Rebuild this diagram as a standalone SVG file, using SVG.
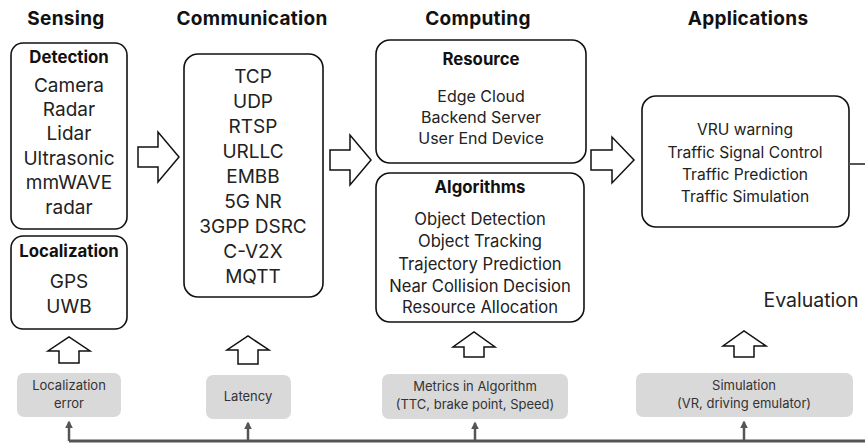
<svg xmlns="http://www.w3.org/2000/svg" width="865" height="443" viewBox="0 0 865 443">
<style>
.hd{font-family:Inter,"Liberation Sans",sans-serif;font-weight:700;font-size:19px;fill:#111;text-anchor:middle;letter-spacing:0.3px}
.bx{fill:#fff;stroke:#111;stroke-width:1.6}
.t{font-family:Inter,"Liberation Sans",sans-serif;font-size:19px;fill:#222;text-anchor:middle}
.tb{font-family:Inter,"Liberation Sans",sans-serif;font-size:16.8px;font-weight:700;fill:#111;text-anchor:middle}
.tm{font-family:Inter,"Liberation Sans",sans-serif;font-size:16px;fill:#222;text-anchor:middle}
.gb{fill:#d9d9d9}
.gt{font-family:Inter,"Liberation Sans",sans-serif;font-size:13px;fill:#333;text-anchor:middle}
.ba{fill:#fff;stroke:#111;stroke-width:1.5;stroke-linejoin:miter}
.cn{stroke:#555;stroke-width:2.5;fill:none}
</style>
<defs>
<marker id="ah" viewBox="0 0 10 10" refX="8" refY="5" markerWidth="3.2" markerHeight="3.2" orient="auto" markerUnits="strokeWidth">
<path d="M0,0 L10,5 L0,10 z" fill="#555"/>
</marker>
</defs>

<g id="headers">
<text class="hd" x="66" y="25">Sensing</text>
<text class="hd" x="252" y="25">Communication</text>
<text class="hd" x="478" y="25">Computing</text>
<text class="hd" x="748" y="25">Applications</text>
</g>

<g id="detection">
<rect class="bx" x="11" y="43" width="116" height="186" rx="12"/>
<text class="tb" x="69" y="63">Detection</text>
<text class="t" x="69" y="92">Camera</text>
<text class="t" x="69" y="116">Radar</text>
<text class="t" x="69" y="140">Lidar</text>
<text class="t" x="69" y="165">Ultrasonic</text>
<text class="t" x="69" y="189">mmWAVE</text>
<text class="t" x="69" y="214">radar</text>
</g>

<g id="localization">
<rect class="bx" x="11" y="236" width="116" height="93" rx="12"/>
<text class="tb" x="69" y="257">Localization</text>
<text class="t" x="69" y="288">GPS</text>
<text class="t" x="69" y="313">UWB</text>
</g>

<g id="communication">
<rect class="bx" x="184" y="54" width="139" height="243" rx="14"/>
<text class="t" x="253" y="83">TCP</text>
<text class="t" x="253" y="108">UDP</text>
<text class="t" x="253" y="133">RTSP</text>
<text class="t" x="253" y="158">URLLC</text>
<text class="t" x="253" y="183">EMBB</text>
<text class="t" x="253" y="208">5G NR</text>
<text class="t" x="253" y="233">3GPP DSRC</text>
<text class="t" x="253" y="258">C-V2X</text>
<text class="t" x="253" y="283">MQTT</text>
</g>

<g id="resource">
<rect class="bx" x="376" y="40" width="210" height="123" rx="14"/>
<text class="tb" x="481" y="65">Resource</text>
<text class="tm" x="481" y="102">Edge Cloud</text>
<text class="tm" x="481" y="123">Backend Server</text>
<text class="tm" x="481" y="144">User End Device</text>
</g>

<g id="algorithms">
<rect class="bx" x="376" y="173" width="208" height="149" rx="14"/>
<text class="tb" x="480" y="193">Algorithms</text>
<text class="tm" x="480" y="225" style="font-size:16.6px">Object Detection</text>
<text class="tm" x="480" y="247" style="font-size:16.6px">Object Tracking</text>
<text class="tm" x="480" y="270" style="font-size:16.6px">Trajectory Prediction</text>
<text class="tm" x="480" y="292" style="font-size:16.6px">Near Collision Decision</text>
<text class="tm" x="480" y="313" style="font-size:16.6px">Resource Allocation</text>
</g>

<g id="applications">
<rect class="bx" x="642" y="96" width="207" height="131" rx="14"/>
<text class="tm" x="745" y="135" style="font-size:15.6px">VRU warning</text>
<text class="tm" x="745" y="158" style="font-size:15.6px">Traffic Signal Control</text>
<text class="tm" x="745" y="180" style="font-size:15.6px">Traffic Prediction</text>
<text class="tm" x="745" y="202" style="font-size:15.6px">Traffic Simulation</text>
</g>

<g id="evaluation">
<text x="811" y="307" style="font-family:Inter,'Liberation Sans',sans-serif;font-size:19.5px;fill:#222;text-anchor:middle">Evaluation</text>
</g>

<g id="block-arrows">
<path class="ba" d="M138,147 H158 V132 L179,157 L158,182 V167 H138 Z"/>
<path class="ba" d="M330,150 H350 V135 L371,160 L350,185 V170 H330 Z"/>
<path class="ba" d="M591,150 H612 V137 L634,160 L612,183 V170 H591 Z"/>
<path class="ba" d="M59,363 V351 H48 L69,337 L90,351 H79 V363 Z"/>
<path class="ba" d="M238,364 V350 H227 L248,336 L269,350 H258 V364 Z"/>
<path class="ba" d="M464,357 V347 H453 L474,332 L495,347 H484 V357 Z"/>
<path class="ba" d="M734,357 V346 H723 L744,331 L766,346 H754 V357 Z"/>
</g>

<g id="eval-localization">
<rect class="gb" x="17" y="373" width="104" height="44" rx="7"/>
<text class="gt" x="69" y="390">Localization</text>
<text class="gt" x="69" y="408">error</text>
</g>
<g id="eval-latency">
<rect class="gb" x="206" y="375" width="85" height="44" rx="7"/>
<text class="gt" x="248" y="401">Latency</text>
</g>
<g id="eval-metrics">
<rect class="gb" x="382" y="374" width="186" height="45" rx="7"/>
<text class="gt" x="475" y="391">Metrics in Algorithm</text>
<text class="gt" x="475" y="409">(TTC, brake point, Speed)</text>
</g>
<g id="eval-simulation">
<rect class="gb" x="636" y="373" width="217" height="44" rx="7"/>
<text class="gt" x="744" y="390">Simulation</text>
<text class="gt" x="744" y="408">(VR, driving emulator)</text>
</g>

<g id="connectors">
<line class="cn" x1="849" y1="164" x2="865" y2="164" style="stroke-width:2"/>
<polyline class="cn" points="69,441 865,441" style="stroke-width:3"/>
<line class="cn" x1="69" y1="441" x2="69" y2="422" marker-end="url(#ah)"/>
<line class="cn" x1="248" y1="441" x2="248" y2="423" marker-end="url(#ah)"/>
<line class="cn" x1="475" y1="441" x2="475" y2="423" marker-end="url(#ah)"/>
<line class="cn" x1="744" y1="441" x2="744" y2="422" marker-end="url(#ah)"/>
</g>
</svg>
